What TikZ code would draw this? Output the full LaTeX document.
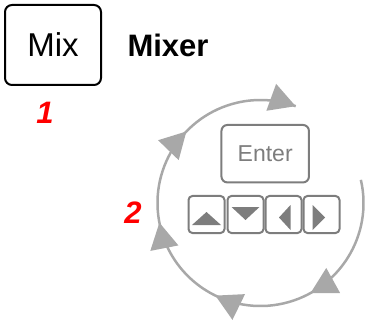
\documentclass[tikz,border=0pt]{standalone}
\usepackage{fontspec}
\setmainfont{Liberation Sans}
\usetikzlibrary{arrows.meta,decorations.markings}
\definecolor{ringgray}{RGB}{168,168,168}
\definecolor{keygray}{RGB}{125,125,125}
\definecolor{numred}{RGB}{255,0,0}
\begin{document}
\begin{tikzpicture}[x=1pt,y=1pt,
  mixbox/.style={draw=black,line width=2pt,rounded corners=7pt,minimum width=96pt,minimum height=80pt,inner sep=0pt,font=\fontsize{33}{33}\selectfont},
  titletext/.style={font=\bfseries\fontsize{31}{31}\selectfont},
  numtext/.style={text=numred,font=\bfseries\itshape\fontsize{31}{31}\selectfont},
  enterbox/.style={draw=keygray,line width=2pt,rounded corners=6pt,minimum width=87.5pt,minimum height=57.5pt,inner sep=0pt,text=keygray,font=\fontsize{23}{23}\selectfont},
  keybox/.style={draw=keygray,line width=2pt,rounded corners=4pt,minimum width=36pt,minimum height=37pt,inner sep=0pt},
  keytri/.style={fill=keygray},
  ring/.style={draw=ringgray,line width=2.5pt,
    decoration={markings,
      mark=at position 0.2442 with {\arrow{Triangle[length=26pt,width=28pt]}},
      mark=at position 0.4257 with {\arrow{Triangle[length=26pt,width=28pt]}},
      mark=at position 0.6007 with {\arrow{Triangle[length=26pt,width=28pt]}},
      mark=at position 0.7822 with {\arrow{Triangle[length=26pt,width=28pt]}},
      mark=at position 0.9999 with {\arrow{Triangle[length=26pt,width=28pt]}}},
    postaction={decorate}}
]
\useasboundingbox (0,0) rectangle (366,-320);

\node[mixbox] (mix) at (53,-45) {Mix};
\node[titletext] (mixer) at (168,-45) {Mixer};
\node[numtext] (n1) at (45,-113) {1};
\node[numtext] (n2) at (133,-213) {2};

\coordinate (c) at (260.5,-203);
\draw[ring,color=ringgray] (c) ++(13:103pt) arc[start angle=13,end angle=-290,radius=103pt];

\node[enterbox] (enter) at (265.2,-153.7) {Enter};

\node[keybox] (kup) at (206.5,-214.5) {};
\node[keybox] (kdown) at (245.5,-214.5) {};
\node[keybox] (kleft) at (283.5,-214.5) {};
\node[keybox] (kright) at (321.5,-214.5) {};

\fill[keytri,shift={(kup)}] (-14.5,-10.5) -- (14.5,-10.5) -- (0,2.5) -- cycle;
\fill[keytri,shift={(kdown)}] (-14,7.5) -- (14,7.5) -- (0,-5.5) -- cycle;
\fill[keytri,shift={(kleft)}] (7,9.5) -- (7,-15.5) -- (-4.5,-3) -- cycle;
\fill[keytri,shift={(kright)}] (-9,9.5) -- (-9,-15.5) -- (3.5,-3) -- cycle;
\end{tikzpicture}
\end{document}
